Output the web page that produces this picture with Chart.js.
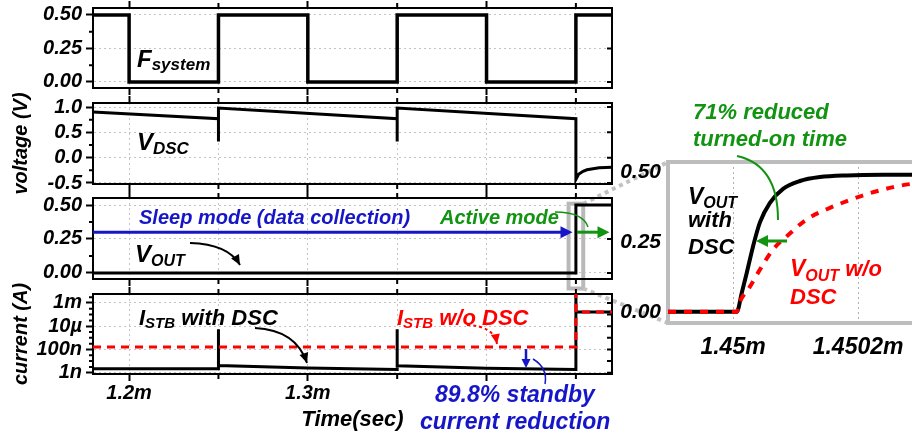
<!DOCTYPE html>
<html>
<head>
<meta charset="utf-8">
<script src="https://cdn.jsdelivr.net/npm/chart.js@4.4.1/dist/chart.umd.min.js"></script>
<style>
  html, body { margin: 0; padding: 0; background: #fff; }
  #wrap { position: relative; width: 912px; height: 436px; overflow: hidden; }
  canvas { position: absolute; }
</style>
</head>
<body>
<div id="wrap">
  <canvas id="under" width="912" height="436" style="left:0;top:0"></canvas>
  <canvas id="p1"></canvas>
  <canvas id="p2"></canvas>
  <canvas id="p3"></canvas>
  <canvas id="p4"></canvas>
  <canvas id="inset"></canvas>
  <canvas id="over" width="912" height="436" style="left:0;top:0"></canvas>
</div>
<script>
// time axis (in ms, labelled with "m")
const xTicks = [1.2, 1.25, 1.3, 1.35, 1.4, 1.45];
const xMajor = [1.2, 1.3, 1.4];
const xTickLabels = ['1.2m', '', '1.3m', '', '', ''];

// F_system
const fsysT = [1.1798, 1.2, 1.2, 1.25, 1.25, 1.3, 1.3, 1.35, 1.35, 1.4, 1.4, 1.45, 1.45, 1.4702];
const fsysV = [0.5, 0.5, 0, 0, 0.5, 0.5, 0, 0, 0.5, 0.5, 0, 0, 0.5, 0.5];
const fsysTicks = [0, 0.25, 0.5];
const fsysLabels = ['0.00', '0.25', '0.50'];

// V_DSC
const vdscT = [1.1798, 1.25, 1.25, 1.25, 1.35, 1.35, 1.35, 1.45, 1.45, 1.4515, 1.454, 1.4562, 1.463, 1.4702];
const vdscV = [0.90, 0.77, 0.32, 0.98, 0.77, 0.32, 0.98, 0.77, -0.43, -0.33, -0.27, -0.24, -0.20, -0.19];
const vdscTicks = [-0.5, 0, 0.5, 1.0];
const vdscLabels = ['-0.5', '0.0', '0.5', '1.0'];

// V_OUT
const voutT = [1.1798, 1.45, 1.45, 1.4702];
const voutV = [0, 0, 0.5, 0.5];

// I_STB with DSC / without DSC
const istbT = [1.1798, 1.25, 1.25, 1.25, 1.3, 1.35, 1.35, 1.35, 1.4, 1.45, 1.45, 1.4501, 1.4702];
const istbV = [2.2e-9, 2.2e-9, 5.6e-6, 4.2e-9, 2.5e-9, 1.9e-9, 5.6e-6, 4.0e-9, 2.4e-9, 1.9e-9, 6e-3, 1.7e-4, 1.7e-4];
const istbNoT = [1.1798, 1.45, 1.45, 1.4501, 1.4702];
const istbNoV = [1.6e-7, 1.6e-7, 6e-3, 1.7e-4, 1.7e-4];
const curTicks = [1e-9, 1e-7, 1e-5, 1e-3];
const curLabels = ['1n', '100n', '10\u00b5', '1m'];

// inset: ns after 1.45 ms
const insetXTicks = [0, 200];
const insetXLabels = ['1.45m', '1.4502m'];
const insetYTicks = [0, 0.25, 0.5];
const insetYLabels = ['0.00', '0.25', '0.50'];
const withT = [-104, 6, 14, 22, 32, 43, 59, 80, 107, 139, 182, 240, 331];
const withV = [0, 0, 0.068, 0.14, 0.234, 0.32, 0.39, 0.44, 0.468, 0.482, 0.488, 0.49, 0.49];
const woT = [-104, 6, 11, 27, 43, 64, 86, 118, 150, 182, 214, 256, 283, 331];
const woV = [0, 0, 0.036, 0.09, 0.151, 0.223, 0.27, 0.331, 0.367, 0.396, 0.421, 0.446, 0.457, 0.468];

const FONT = '"Liberation Sans", Arial, Helvetica, sans-serif';
const GRID = '#c4c4c4';
const BLUE = '#1616c8', GREEN = '#129412', RED = '#ff0000';
const X_MIN = 1.1798, X_MAX = 1.4702;
const FRAME_L = 93, FRAME_R = 612, CAN_W = 640, MARGIN = 20;

const bi = size => ({ family: FONT, size: size, style: 'italic', weight: 'bold' });
const pts = (t, v) => t.map((x, i) => ({ x: x, y: v[i] }));

function axisMarks(o) {
  return {
    id: 'axisMarks',
    afterDraw(chart) {
      const { ctx, chartArea: a, scales: { x, y } } = chart;
      ctx.save();
      ctx.strokeStyle = '#000';
      ctx.lineWidth = 2;
      ctx.beginPath();
      o.yMinor.forEach(v => { const p = y.getPixelForValue(v); ctx.moveTo(a.left - 4, p); ctx.lineTo(a.left, p); });
      o.yRight.forEach(v => { const p = y.getPixelForValue(v); ctx.moveTo(a.right, p); ctx.lineTo(a.right - 5, p); });
      xTicks.filter(v => !xMajor.includes(v)).forEach(v => {
        const p = x.getPixelForValue(v);
        ctx.moveTo(p, a.top); ctx.lineTo(p, a.top - 5);
        ctx.moveTo(p, a.bottom); ctx.lineTo(p, a.bottom + 5);
      });
      ctx.stroke();
      ctx.restore();
    }
  };
}

function makePanel(id, o) {
  const top = o.frameTop - MARGIN;
  const h = o.frameBottom + o.bottomH - top;
  const cv = document.getElementById(id);
  cv.width = CAN_W; cv.height = h;
  cv.style.left = '0px'; cv.style.top = top + 'px';
  const yType = o.yType || 'linear';
  const tickCol = c => (c.tick && xMajor.includes(c.tick.value)) ? '#000' : 'rgba(0,0,0,0)';
  const chart = new Chart(cv, {
    type: 'line',
    data: { datasets: o.datasets },
    options: {
      responsive: false, animation: false, events: [],
      layout: { padding: 0 },
      plugins: { legend: { display: false }, tooltip: { enabled: false } },
      elements: { point: { radius: 0 }, line: { tension: 0, borderJoinStyle: 'miter', borderCapStyle: 'butt' } },
      scales: {
        x: {
          type: 'linear', position: 'bottom', min: X_MIN, max: X_MAX,
          afterBuildTicks: s => { s.ticks = xTicks.map(v => ({ value: v })); },
          afterFit: s => { s.height = o.bottomH; },
          ticks: { display: !!o.xLabels, callback: (v, i) => xTickLabels[i], font: bi(20), color: '#000', padding: 0, maxRotation: 0, autoSkip: false },
          grid: { color: GRID, lineWidth: 1, tickLength: 7, tickWidth: 2, tickColor: tickCol },
          border: { color: '#000', width: 2, dash: [2, 3] },
          title: o.xTitle ? { display: true, text: o.xTitle, font: bi(22), color: '#000', padding: { top: 0, bottom: 3 } } : { display: false }
        },
        xTop: {
          type: 'linear', position: 'top', min: X_MIN, max: X_MAX,
          afterBuildTicks: s => { s.ticks = xTicks.map(v => ({ value: v })); },
          afterFit: s => { s.height = MARGIN; },
          ticks: { display: false },
          grid: { drawOnChartArea: false, tickLength: 7, tickWidth: 2, tickColor: tickCol },
          border: { color: '#000', width: 2 }
        },
        y: {
          type: yType, position: 'left', min: o.yMin, max: o.yMax,
          afterBuildTicks: s => { s.ticks = o.yTicks.map(v => ({ value: v })); },
          afterFit: s => { s.width = FRAME_L; },
          ticks: { callback: (v, i) => o.yLabels[i], font: bi(20), color: '#000', padding: 4, autoSkip: false },
          grid: { color: GRID, lineWidth: 1, tickLength: 7, tickWidth: 2, tickColor: '#000' },
          border: { color: '#000', width: 2, dash: [2, 3] },
          title: o.yTitle ? { display: true, text: o.yTitle, font: bi(20), color: '#000', padding: { top: 9, bottom: 0 } } : { display: false }
        },
        yR: {
          type: yType, position: 'right', min: o.yMin, max: o.yMax,
          afterFit: s => { s.width = CAN_W - FRAME_R; },
          ticks: { display: false },
          grid: { drawOnChartArea: false, drawTicks: false },
          border: { color: '#000', width: 2 }
        }
      }
    },
    plugins: [axisMarks(o)]
  });
  chart.$off = { l: 0, t: top };
  return chart;
}

const blackLine = (t, v, w) => ({ data: pts(t, v), borderColor: '#000', borderWidth: w || 3, xAxisID: 'x', yAxisID: 'y' });

const p1 = makePanel('p1', {
  frameTop: 8, frameBottom: 88, bottomH: 20,
  yMin: -0.045, yMax: 0.552, yTicks: fsysTicks, yLabels: fsysLabels,
  yMinor: [0.125, 0.375], yRight: fsysTicks,
  datasets: [blackLine(fsysT, fsysV, 3.5)]
});
const p2 = makePanel('p2', {
  frameTop: 103, frameBottom: 184, bottomH: 20,
  yMin: -0.52, yMax: 1.079, yTicks: vdscTicks, yLabels: vdscLabels,
  yMinor: [-0.25, 0.25, 0.75], yRight: vdscTicks, yTitle: 'voltage (V)',
  datasets: [blackLine(vdscT, vdscV, 3)]
});
const p3 = makePanel('p3', {
  frameTop: 198, frameBottom: 279, bottomH: 20,
  yMin: -0.045, yMax: 0.552, yTicks: fsysTicks, yLabels: fsysLabels,
  yMinor: [0.125, 0.375], yRight: fsysTicks,
  datasets: [blackLine(voutT, voutV, 3)]
});
const p4 = makePanel('p4', {
  frameTop: 294, frameBottom: 374, bottomH: 62, yType: 'logarithmic',
  yMin: 0.78e-9, yMax: 5.9e-3, yTicks: curTicks, yLabels: curLabels,
  yMinor: [3.16e-9, 1e-8, 3.16e-8, 3.16e-7, 1e-6, 3.16e-6, 3.16e-5, 1e-4, 3.16e-4, 3.16e-3],
  yRight: [1e-9, 1e-8, 1e-7, 1e-6, 1e-5, 1e-4, 1e-3],
  yTitle: 'current (A)', xLabels: true, xTitle: 'Time(sec)',
  datasets: [
    { data: pts(istbNoT, istbNoV), borderColor: RED, borderWidth: 3, borderDash: [8, 6], xAxisID: 'x', yAxisID: 'y' },
    blackLine(istbT, istbV, 3)
  ]
});

// zoomed inset
const INS = { l: 600, t: 140, w: 340, h: 296 };
const insCv = document.getElementById('inset');
insCv.width = INS.w; insCv.height = INS.h;
insCv.style.left = INS.l + 'px'; insCv.style.top = INS.t + 'px';
const FRAME_GRAY = '#bdbdbd';
const inset = new Chart(insCv, {
  type: 'line',
  data: {
    datasets: [
      { data: pts(woT, woV), borderColor: RED, borderWidth: 4, borderDash: [8, 8], cubicInterpolationMode: 'monotone', xAxisID: 'x', yAxisID: 'y' },
      { data: pts(withT, withV), borderColor: '#000', borderWidth: 4, cubicInterpolationMode: 'monotone', xAxisID: 'x', yAxisID: 'y' }
    ]
  },
  options: {
    responsive: false, animation: false, events: [],
    layout: { padding: 0 },
    plugins: { legend: { display: false }, tooltip: { enabled: false } },
    elements: { point: { radius: 0 } },
    scales: {
      x: {
        type: 'linear', position: 'bottom', min: -104, max: 331,
        afterBuildTicks: s => { s.ticks = insetXTicks.map(v => ({ value: v })); },
        afterFit: s => { s.height = INS.t + INS.h - 323; },
        ticks: { callback: (v, i) => insetXLabels[i], font: bi(23), color: '#000', padding: 11, maxRotation: 0, autoSkip: false },
        grid: { color: '#b0b0b0', lineWidth: 1, drawTicks: false },
        border: { color: FRAME_GRAY, width: 4, dash: [2, 3] }
      },
      xTop: {
        type: 'linear', position: 'top', min: -104, max: 331,
        afterFit: s => { s.height = 162 - INS.t; },
        ticks: { display: false },
        grid: { drawOnChartArea: false, drawTicks: false },
        border: { color: FRAME_GRAY, width: 4 }
      },
      y: {
        type: 'linear', position: 'left', min: -0.04, max: 0.536,
        afterBuildTicks: s => { s.ticks = insetYTicks.map(v => ({ value: v })); },
        afterFit: s => { s.width = 668 - INS.l; },
        ticks: { callback: (v, i) => insetYLabels[i], font: bi(21), color: '#000', padding: 7 },
        grid: { drawOnChartArea: false, drawTicks: false },
        border: { color: FRAME_GRAY, width: 4 }
      }
    }
  }
});
inset.$off = { l: INS.l, t: INS.t };

// ---- annotations ----
const abs = (ch, x, y) => ({
  x: ch.scales.x.getPixelForValue(x) + ch.$off.l,
  y: ch.scales.y.getPixelForValue(y) + ch.$off.t
});

function head(ctx, tx, ty, ang, len, w) {
  const c = Math.cos(ang), s = Math.sin(ang);
  ctx.beginPath();
  ctx.moveTo(tx, ty);
  ctx.lineTo(tx - len * c + w * s, ty - len * s - w * c);
  ctx.lineTo(tx - len * c - w * s, ty - len * s + w * c);
  ctx.closePath();
  ctx.fill();
}
function curveArrow(ctx, p0, c, p1, color, width, dash, noHead) {
  ctx.save();
  ctx.strokeStyle = color; ctx.fillStyle = color; ctx.lineWidth = width;
  ctx.setLineDash(dash || []);
  ctx.beginPath(); ctx.moveTo(p0[0], p0[1]); ctx.quadraticCurveTo(c[0], c[1], p1[0], p1[1]); ctx.stroke();
  ctx.setLineDash([]);
  if (!noHead) head(ctx, p1[0], p1[1], Math.atan2(p1[1] - c[1], p1[0] - c[0]), 10, 4.5);
  ctx.restore();
}
function lineArrow(ctx, x0, y0, x1, y1, color, width, len, w) {
  const ang = Math.atan2(y1 - y0, x1 - x0);
  ctx.save();
  ctx.strokeStyle = color; ctx.fillStyle = color; ctx.lineWidth = width;
  ctx.beginPath(); ctx.moveTo(x0, y0);
  ctx.lineTo(x1 - len * 0.6 * Math.cos(ang), y1 - len * 0.6 * Math.sin(ang)); ctx.stroke();
  head(ctx, x1, y1, ang, len, w);
  ctx.restore();
}
function label(ctx, parts, x, y, color) {
  ctx.fillStyle = color;
  let cx = x;
  parts.forEach(([s, size, dy]) => {
    ctx.font = `italic bold ${size}px ${FONT}`;
    ctx.fillText(s, cx, y + (dy || 0));
    cx += ctx.measureText(s).width;
  });
}

// under layer: zoom box and connectors
const un = document.getElementById('under').getContext('2d');
const boxA = abs(p3, 1.4459, 0.51), boxB = abs(p3, 1.4541, -0.115);
un.strokeStyle = '#b9b9b9'; un.lineWidth = 4;
un.strokeRect(boxA.x, boxA.y, boxB.x - boxA.x, boxB.y - boxA.y);
const ia = inset.chartArea;
un.strokeStyle = '#c2c2c2'; un.setLineDash([4, 4]);
un.beginPath();
un.moveTo(boxB.x, boxA.y); un.lineTo(ia.left + INS.l, ia.top + INS.t);
un.moveTo(boxB.x, boxB.y); un.lineTo(ia.left + INS.l, ia.bottom + INS.t);
un.stroke();
un.setLineDash([]);

// over layer: arrows and texts
const ov = document.getElementById('over').getContext('2d');
const sleepA = abs(p3, 1.4481, 0.3);
lineArrow(ov, p3.chartArea.left, sleepA.y, sleepA.x, sleepA.y, BLUE, 3, 12, 6);
const actA = abs(p3, 1.4506, 0.3), actB = abs(p3, 1.4688, 0.3);
lineArrow(ov, actA.x, actA.y, actB.x, actB.y, GREEN, 3, 12, 6);
curveArrow(ov, [555, 212], [583, 212], [588, 227], GREEN, 1.5, null, true);

curveArrow(ov, [190, 243], [228, 244], [240, 265], '#000', 2);
curveArrow(ov, [255, 328], [296, 330], [307, 363], '#000', 2);
curveArrow(ov, [467, 325], [494, 326], [497, 344], RED, 2, [3, 3]);
lineArrow(ov, 526, 349, 526, 368, BLUE, 2.5, 9, 4.5);
curveArrow(ov, [533, 359], [548, 368], [545, 384], BLUE, 1.5, null, true);

curveArrow(ov, [737, 156], [778, 165], [778, 220], GREEN, 2, null, true);
lineArrow(ov, 787, 241, 756, 241, GREEN, 3, 12, 6);

label(ov, [['F', 24], ['system', 17, 3]], 137, 67, '#000');
label(ov, [['V', 24], ['DSC', 17, 4]], 137, 150, '#000');
label(ov, [['V', 24], ['OUT', 16, 4]], 135, 262, '#000');
label(ov, [['Sleep mode (data collection)', 20]], 139, 224, BLUE);
label(ov, [['Active mode', 20]], 440, 224, GREEN);
label(ov, [['I', 22], ['STB', 15, 3], [' with DSC', 22]], 139, 325, '#000');
label(ov, [['I', 22], ['STB', 15, 3], [' w/o DSC', 22]], 397, 325, RED);
label(ov, [['89.8% standby', 23]], 435, 402, BLUE);
label(ov, [['current reduction', 23]], 420, 429, BLUE);

label(ov, [['V', 23], ['OUT', 16, 4]], 688, 204, '#000');
label(ov, [['with', 22]], 688, 227, '#000');
label(ov, [['DSC', 22]], 688, 254, '#000');
label(ov, [['V', 23], ['OUT', 16, 5], [' w/o', 22]], 790, 276, RED);
label(ov, [['DSC', 22]], 790, 304, RED);
label(ov, [['71% reduced', 22]], 693, 119, GREEN);
label(ov, [['turned-on time', 22]], 693, 146, GREEN);
</script>
</body>
</html>
